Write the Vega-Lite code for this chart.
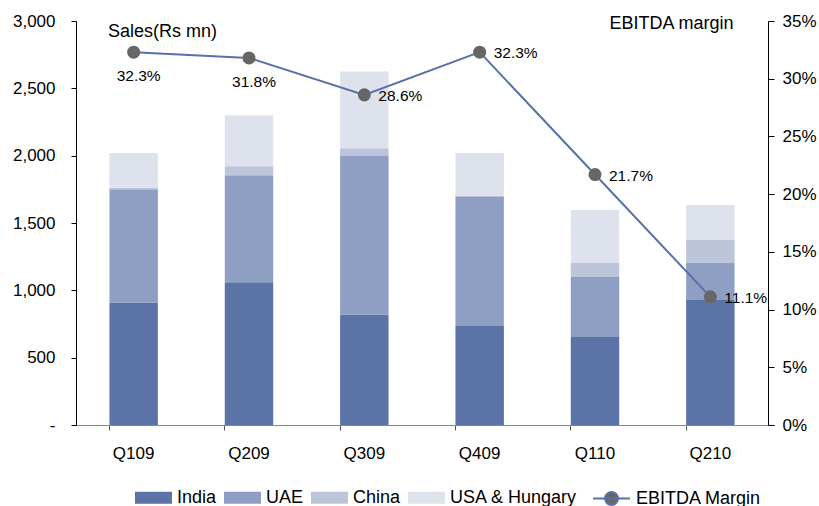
{
  "$schema": "https://vega.github.io/schema/vega-lite/v6.json",
  "width": 692,
  "height": 404,
  "autosize": "none",
  "padding": {"left": 76, "top": 21, "right": 51, "bottom": 81},
  "background": "white",
  "config": {
    "view": {"stroke": null},
    "font": "Liberation Sans",
    "axis": {"labelFont": "Liberation Sans", "titleFont": "Liberation Sans", "labelColor": "#000", "titleColor": "#000", "grid": false},
    "legend": {"labelFont": "Liberation Sans", "labelColor": "#000"}
  },
  "datasets": {
    "sales": [
      {"quarter": "Q109", "region": "India", "sales": 910},
      {"quarter": "Q109", "region": "UAE", "sales": 840},
      {"quarter": "Q109", "region": "China", "sales": 12},
      {"quarter": "Q109", "region": "USA & Hungary", "sales": 258},
      {"quarter": "Q209", "region": "India", "sales": 1060},
      {"quarter": "Q209", "region": "UAE", "sales": 795},
      {"quarter": "Q209", "region": "China", "sales": 67},
      {"quarter": "Q209", "region": "USA & Hungary", "sales": 378},
      {"quarter": "Q309", "region": "India", "sales": 820},
      {"quarter": "Q309", "region": "UAE", "sales": 1177},
      {"quarter": "Q309", "region": "China", "sales": 58},
      {"quarter": "Q309", "region": "USA & Hungary", "sales": 570},
      {"quarter": "Q409", "region": "India", "sales": 735},
      {"quarter": "Q409", "region": "UAE", "sales": 958},
      {"quarter": "Q409", "region": "China", "sales": 8},
      {"quarter": "Q409", "region": "USA & Hungary", "sales": 319},
      {"quarter": "Q110", "region": "India", "sales": 653},
      {"quarter": "Q110", "region": "UAE", "sales": 446},
      {"quarter": "Q110", "region": "China", "sales": 104},
      {"quarter": "Q110", "region": "USA & Hungary", "sales": 393},
      {"quarter": "Q210", "region": "India", "sales": 928},
      {"quarter": "Q210", "region": "UAE", "sales": 275},
      {"quarter": "Q210", "region": "China", "sales": 170},
      {"quarter": "Q210", "region": "USA & Hungary", "sales": 260}
    ],
    "margin": [
      {"quarter": "Q109", "margin": 0.323},
      {"quarter": "Q209", "margin": 0.318},
      {"quarter": "Q309", "margin": 0.286},
      {"quarter": "Q409", "margin": 0.323},
      {"quarter": "Q110", "margin": 0.217},
      {"quarter": "Q210", "margin": 0.111}
    ]
  },
  "layer": [
    {
      "data": {"name": "sales"},
      "transform": [
        {"calculate": "indexof(['India','UAE','China','USA & Hungary'], datum.region)", "as": "stackOrder"}
      ],
      "mark": {"type": "bar"},
      "encoding": {
        "x": {
          "field": "quarter", "type": "nominal", "title": null,
          "sort": ["Q109", "Q209", "Q309", "Q409", "Q110", "Q210"],
          "scale": {"paddingInner": 0.58, "paddingOuter": 0.29},
          "axis": {"labelAngle": 0, "bandPosition": 0, "domainColor": "#888888", "tickColor": "#555555", "tickSize": 5, "labelPadding": 15, "labelFontSize": 17}
        },
        "y": {
          "field": "sales", "type": "quantitative", "stack": "zero",
          "scale": {"domain": [0, 3000], "nice": false},
          "axis": {
            "values": [0, 500, 1000, 1500, 2000, 2500, 3000],
            "labelExpr": "datum.value === 0 ? '-' : format(datum.value, ',')",
            "domainColor": "#000", "tickColor": "#000", "tickSize": 5, "labelPadding": 16, "labelFontSize": 17,
            "title": "Sales(Rs mn)", "titleAngle": 0, "titleAlign": "center", "titleBaseline": "alphabetic",
            "titleX": 86, "titleY": 15, "titleFontSize": 18, "titleFontWeight": "normal"
          }
        },
        "fill": {
          "field": "region", "type": "nominal",
          "scale": {"domain": ["India", "UAE", "China", "USA & Hungary"], "range": ["#5B73A7", "#8E9FC3", "#BDC5DB", "#DEE2ED"]},
          "legend": {
            "title": null, "orient": "none", "legendX": 59, "legendY": 458, "direction": "horizontal",
            "symbolType": "M-1,-0.32H1V0.32H-1Z", "symbolSize": 1369, "symbolStrokeWidth": 0,
            "labelFontSize": 18, "labelOffset": 5, "columnPadding": 7
          }
        },
        "order": {"field": "stackOrder", "type": "quantitative"}
      }
    },
    {
      "data": {"name": "margin"},
      "encoding": {
        "x": {"field": "quarter", "type": "nominal", "title": null, "sort": ["Q109", "Q209", "Q309", "Q409", "Q110", "Q210"]},
        "y": {
          "field": "margin", "type": "quantitative",
          "scale": {"domain": [0, 0.35], "nice": false},
          "axis": {
            "orient": "right",
            "values": [0, 0.05, 0.1, 0.15, 0.2, 0.25, 0.3, 0.35],
            "format": ".0%",
            "domainColor": "#000", "tickColor": "#000", "tickSize": 6, "labelPadding": 8, "labelFontSize": 17,
            "title": "EBITDA margin", "titleAngle": 0, "titleAlign": "right", "titleBaseline": "alphabetic",
            "titleX": -35, "titleY": 7, "titleFontSize": 18, "titleFontWeight": "normal"
          }
        }
      },
      "layer": [
        {
          "mark": {"type": "line", "strokeWidth": 2},
          "encoding": {
            "stroke": {
              "datum": "EBITDA Margin", "type": "nominal",
              "scale": {"range": ["#5671AA"]},
              "legend": {
                "title": null, "orient": "none", "legendX": 516, "legendY": 458,
                "symbolType": "M-1,0H1M0.35,0A0.35,0.35,0,1,1,-0.35,0A0.35,0.35,0,1,1,0.35,0Z",
                "symbolSize": 1369, "symbolStrokeWidth": 2, "symbolFillColor": "#666666",
                "labelFontSize": 18, "labelOffset": 5,
                "encode": {"symbols": {"update": {"fill": {"value": "#666666"}, "fillOpacity": {"value": 1}}}}
              }
            }
          }
        },
        {
          "mark": {"type": "circle", "size": 170, "color": "#666666", "opacity": 1},
          "encoding": {}
        },
        {
          "transform": [{"filter": "datum.quarter === 'Q109' || datum.quarter === 'Q209'"}],
          "mark": {"type": "text", "fontSize": 15.5, "font": "Liberation Sans", "color": "#000", "align": "center", "baseline": "middle", "dx": 5, "dy": 24},
          "encoding": {"text": {"field": "margin", "type": "quantitative", "format": ".1%"}}
        },
        {
          "transform": [{"filter": "datum.quarter !== 'Q109' && datum.quarter !== 'Q209'"}],
          "mark": {"type": "text", "fontSize": 15.5, "font": "Liberation Sans", "color": "#000", "align": "left", "baseline": "middle", "dx": 14, "dy": 1},
          "encoding": {"text": {"field": "margin", "type": "quantitative", "format": ".1%"}}
        }
      ]
    }
  ],
  "resolve": {"scale": {"y": "independent"}}
}
